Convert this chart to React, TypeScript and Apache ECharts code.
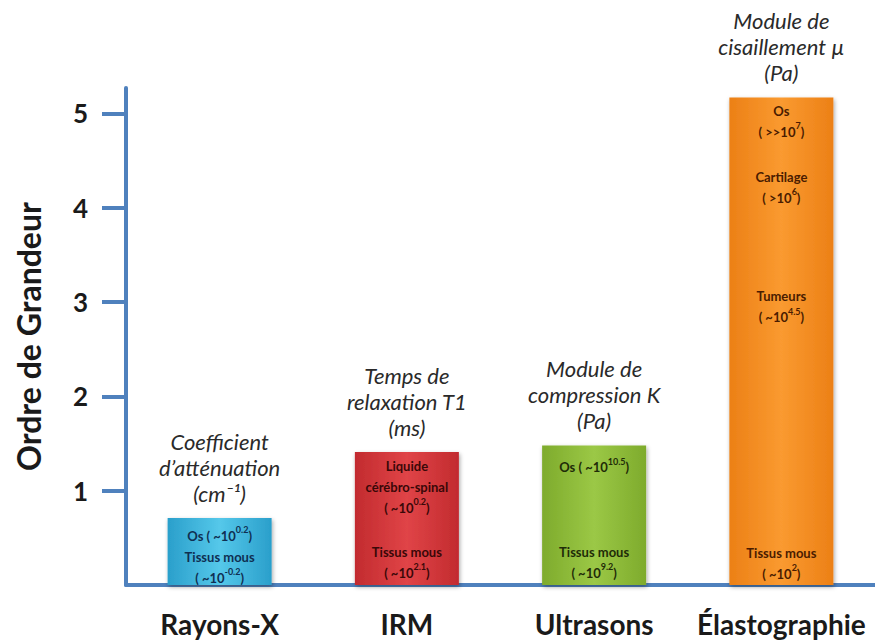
import React, { useEffect, useRef } from 'react';
import * as echarts from 'echarts';

const categories = ['Rayons-X', 'IRM', 'Ultrasons', 'Élastographie'];
const magnitudes = [0.71, 1.41, 1.48, 5.17];
const yTicks = [1, 2, 3, 4, 5];
const quantities = [
  'Coefficient\nd’atténuation\n(cm⁻¹)',
  'Temps de\nrelaxation T1\n(ms)',
  'Module de\ncompression K\n(Pa)',
  'Module de\ncisaillement µ\n(Pa)',
];
const noteCategory = [0, 1, 1, 2, 2, 3, 3, 3, 3];
const noteLevels = [0.3, 1.04, 0.24, 1.25, 0.24, 4.92, 4.22, 2.95, 0.23];
const noteTexts = [
  'Os ( ~10^{0.2})\nTissus mous\n( ~10^{-0.2})',
  'Liquide\ncérébro-spinal\n( ~10^{0.2})',
  'Tissus mous\n( ~10^{2.1})',
  'Os ( ~10^{10.5})',
  'Tissus mous\n( ~10^{9.2})',
  'Os\n( >>10^{7})',
  'Cartilage\n( >10^{6})',
  'Tumeurs\n( ~10^{4.5})',
  'Tissus mous\n( ~10^{2})',
];

const palette = [
  { mid: '#55c8ea', edge: '#2a9fcb', text: '#0f2f52' },
  { mid: '#e04447', edge: '#c22b2f', text: '#3a0808' },
  { mid: '#9bc846', edge: '#7eab2c', text: '#1f2c08' },
  { mid: '#fa9a30', edge: '#ec8016', text: '#4a1c00' },
];

function toRich(s: string, base: string, sup: string): string {
  return s
    .split('\n')
    .map((line) => {
      const parts = line.split(/\^\{([^}]*)\}/);
      return parts
        .map((p, i) => (p === '' ? '' : i % 2 === 0 ? `{${base}|${p}}` : `{${sup}|${p}}`))
        .join('');
    })
    .join('\n');
}

const FONT = 'Lato, "Open Sans", sans-serif';
const AXIS_BLUE = '#4f81bd';

export default function App() {
  const ref = useRef<HTMLDivElement>(null);
  useEffect(() => {
    if (!ref.current) return;
    const chart = echarts.init(ref.current, undefined, { renderer: 'svg' });
    const barData = magnitudes.map((v, i) => ({
      value: v,
      itemStyle: {
        color: new echarts.graphic.LinearGradient(0, 0, 1, 0, [
          { offset: 0, color: palette[i].edge },
          { offset: 0.5, color: palette[i].mid },
          { offset: 1, color: palette[i].edge },
        ]),
        shadowColor: 'rgba(0,0,0,0.35)',
        shadowBlur: 4,
        shadowOffsetX: 1,
        shadowOffsetY: 2,
      },
    }));
    const markData = noteTexts.map((t, k) => ({
      coord: [noteCategory[k], noteLevels[k]],
      label: {
        show: true,
        position: 'inside',
        formatter: toRich(t, 'n', 's'),
        color: palette[noteCategory[k]].text,
        rich: {
          n: { fontSize: 13, fontFamily: FONT, fontWeight: 'bold', lineHeight: 21, color: palette[noteCategory[k]].text },
          s: { fontSize: 9, fontFamily: FONT, fontWeight: 'bold', lineHeight: 15, verticalAlign: 'top', color: palette[noteCategory[k]].text },
        },
      },
    }));
    chart.setOption({
      animation: false,
      backgroundColor: '#ffffff',
      grid: { left: 126, right: 0, top: 88, bottom: 56, containLabel: false, outerBoundsMode: 'none' },
      xAxis: {
        type: 'category',
        data: categories,
        axisLine: { lineStyle: { color: AXIS_BLUE, width: 4 } },
        axisTick: { show: false },
        axisLabel: {
          interval: 0,
          hideOverlap: false,
          margin: 25,
          color: '#1a1a1a',
          fontFamily: FONT,
          fontWeight: 'bold',
          fontSize: 28,
        },
      },
      yAxis: {
        type: 'value',
        min: 0,
        max: 5.27,
        interval: 1,
        name: 'Ordre de Grandeur',
        nameLocation: 'middle',
        nameRotate: 90,
        nameGap: 82,
        nameTextStyle: { fontFamily: FONT, fontWeight: 'bold', fontSize: 32, color: '#1a1a1a' },
        splitLine: { show: false },
        axisLine: { show: true, lineStyle: { color: AXIS_BLUE, width: 4 } },
        axisTick: { show: true, length: 24, lineStyle: { color: AXIS_BLUE, width: 4 }, customValues: yTicks },
        axisLabel: {
          margin: 38,
          color: '#1a1a1a',
          fontFamily: FONT,
          fontWeight: 'bold',
          fontSize: 26,
          customValues: yTicks,
        },
      },
      series: [
        {
          type: 'bar',
          data: barData,
          barWidth: 104,
          label: {
            show: true,
            position: 'top',
            distance: 12,
            formatter: (p: any) => quantities[p.dataIndex],
            fontFamily: FONT,
            fontStyle: 'italic',
            fontSize: 22,
            lineHeight: 26,
            color: '#2a2a2a',
          },
          markPoint: {
            symbol: 'rect',
            symbolSize: 1,
            itemStyle: { color: 'rgba(0,0,0,0)' },
            data: markData,
          },
        },
      ],
    });
    return () => chart.dispose();
  }, []);
  return <div ref={ref} style={{ position: 'fixed', left: 0, top: 0, width: 875, height: 641 }} />;
}
